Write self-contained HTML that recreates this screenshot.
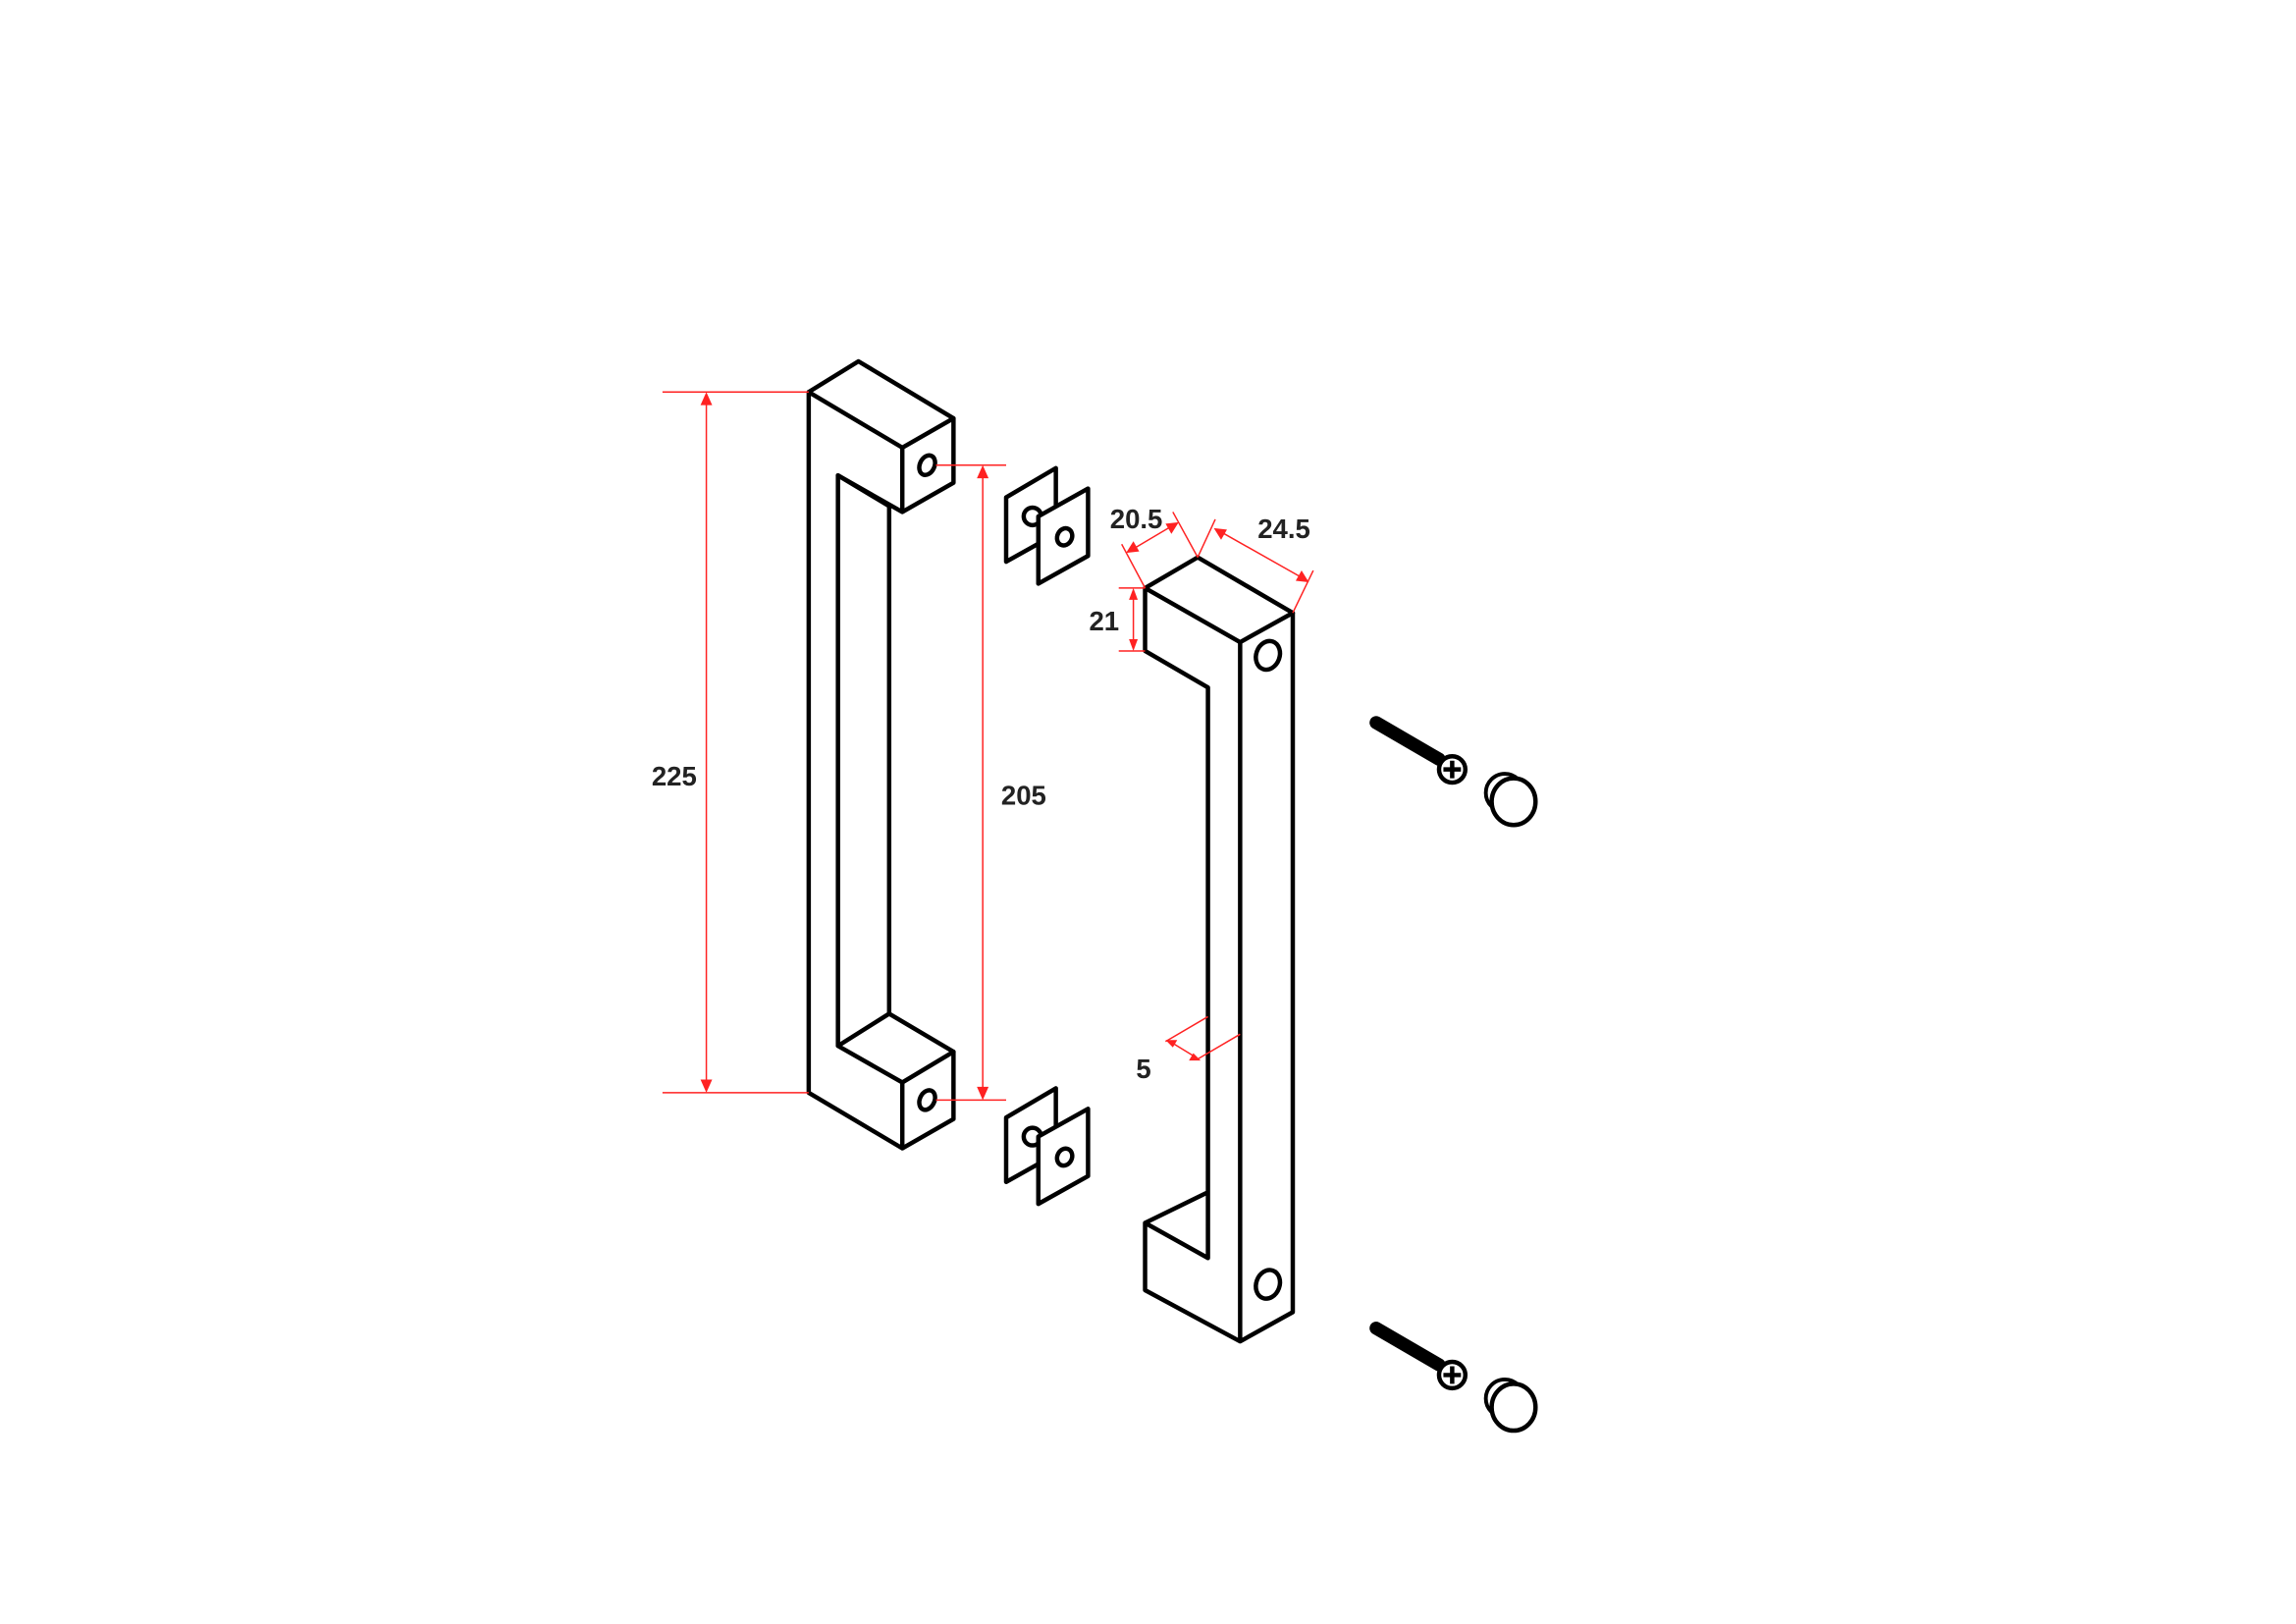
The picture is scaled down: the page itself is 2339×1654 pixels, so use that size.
<!DOCTYPE html>
<html><head><style>html,body{margin:0;padding:0;background:#fff}svg{display:block}</style></head><body>
<svg width="2339" height="1654" viewBox="0 0 1570 1110.2" xmlns="http://www.w3.org/2000/svg">
<rect width="1600" height="1120" fill="#fff"/>
<g fill="none" stroke="#000" stroke-width="3" stroke-linejoin="round" stroke-linecap="round">
<!-- left handle -->
<path d="M553,268 L587,247 L652,286 L617,306 Z"/>
<path d="M617,306 L617,350 M652,286 L652,330 L617,350 L573,325 L573,715 L608,693 L652,719 L617,740 L573,715"/>
<path d="M608,346 L608,693"/>
<path d="M573,325 L608,346"/>
<path d="M553,268 L553,747 L617,785 L652,765 L652,719 M617,740 L617,785"/>
<ellipse cx="634" cy="318" rx="5" ry="7" transform="rotate(25 634 318)"/>
<ellipse cx="634" cy="752" rx="5" ry="7" transform="rotate(25 634 752)"/>
<!-- plates -->
<g id="pl">
<path d="M688,340 L722,320 L722,365 L688,384 Z"/>
<circle cx="706" cy="353" r="6" fill="#fff"/>
<path d="M710,353 L744,334 L744,380 L710,399 Z" fill="#fff"/>
<ellipse cx="728" cy="367" rx="5" ry="6" transform="rotate(25 728 367)"/>
</g>
<use href="#pl" transform="translate(0,424)"/>
<!-- right handle -->
<path d="M783,402 L819,381 L884,419 L848,439 Z"/>
<path d="M783,402 L783,445 L826,470 L826,860 L783,836 L826,815 M783,836 L783,882 L848,917 L884,897 L884,419 M848,439 L848,917"/>
<ellipse cx="867" cy="448" rx="8" ry="10" transform="rotate(20 867 448)"/>
<ellipse cx="867" cy="878" rx="8" ry="10" transform="rotate(20 867 878)"/>
</g>
<!-- screws -->
<g id="sc">
<line x1="941" y1="494" x2="984" y2="519" stroke="#000" stroke-width="9" stroke-linecap="round"/>
<circle cx="993" cy="526" r="9" fill="#fff" stroke="#000" stroke-width="3"/>
<path d="M987,526 H999 M993,520 V532" stroke="#000" stroke-width="3"/>
<circle cx="1029" cy="542" r="13" fill="#fff" stroke="#000" stroke-width="2.6"/>
<ellipse cx="1035" cy="548" rx="15" ry="16" fill="#fff" stroke="#000" stroke-width="3"/>
</g>
<use href="#sc" transform="translate(0,414)"/>
<!-- dims -->
<g stroke="#f22" stroke-width="1" fill="none">
<path d="M453,268 H553 M453,747 H553 M483,272 V743"/>
<path d="M640,318 H688 M640,752 H688 M672,322 V748"/>
<path d="M783,402 L767,372 M819,381 L802,350 M772,377 L804,358"/>
<path d="M819,381 L831,355 M884,419 L898,390 M832,362 L894,397"/>
<path d="M765,402 H783 M765,445 H783 M775,406 V441"/>
<path d="M826,695 L797,712 M848,707 L819,724 M800,712 L818,723"/>
</g>
<g fill="#f22">
<path d="M483,268 l-4,9 h8z M483,747 l-4,-9 h8z"/>
<path d="M672,318 l-4,9 h8z M672,752 l-4,-9 h8z"/>
<path d="M770,378 l9,-1 -4,-7z M806,357 l-9,1 4,7z"/>
<path d="M830,361 l5,8 4,-7z M895,398 l-5,-8 -4,7z"/>
<path d="M775,402 l-3,8 h6z M775,445 l-3,-8 h6z"/>
<path d="M797,711 l8,0 -3,5z M821,725 l-8,0 3,-5z"/>
</g>
<g font-family="Liberation Sans, sans-serif" font-weight="bold" font-size="18.5" fill="#222" text-anchor="middle">
<text x="461" y="537">225</text>
<text x="700" y="550">205</text>
<text x="777" y="361">20.5</text>
<text x="878" y="368">24.5</text>
<text x="755" y="431">21</text>
<text x="782" y="737">5</text>
</g>
</svg>
</body></html>
